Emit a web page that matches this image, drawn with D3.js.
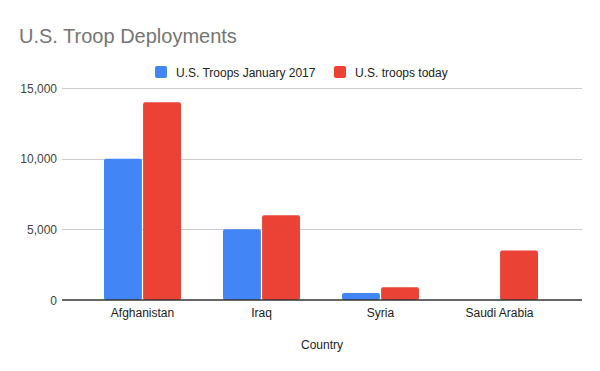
<!DOCTYPE html>
<meta charset="utf-8">
<style>
  body { margin: 0; background: #fff; }
  text { font-family: Arial, "Liberation Sans", sans-serif; }
</style>
<script src="https://d3js.org/d3.v7.min.js"></script>
<svg id="chart" width="600" height="371"></svg>
<script>

// data
var countries = ["Afghanistan", "Iraq", "Syria", "Saudi Arabia"];
var seriesNames = ["U.S. Troops January 2017", "U.S. troops today"];
var troops2017 = [10000, 5000, 500, 0];
var troopsToday = [14000, 6000, 900, 3500];
var yTicks = [0, 5000, 10000, 15000];
var colors = ["#4285f4", "#ea4335"];

var svg = d3.select("#chart");

var rows = countries.map(function(c, i) {
  return { country: c, values: [troops2017[i], troopsToday[i]] };
});

// scales
var gridLeft = 62, gridRight = 582;
var y = d3.scaleLinear().domain([0, 15000]).range([300, 88]);
var x0 = d3.scaleBand().domain(countries).range([83, 559]).paddingInner(0.353).paddingOuter(0.1765);
var x1 = d3.scaleBand().domain([0, 1]).range([0, x0.bandwidth()]).paddingInner(0.03);

// title
svg.append("text")
  .attr("x", 19).attr("y", 43)
  .attr("fill", "#757575")
  .style("font-size", "20px")
  .text("U.S. Troop Deployments");

// legend
var legendX = [155, 334];
var legend = svg.selectAll("g.legend")
  .data(seriesNames)
  .enter().append("g")
  .attr("class", "legend")
  .attr("transform", function(d, i) { return "translate(" + legendX[i] + ",66)"; });

legend.append("rect")
  .attr("width", 12).attr("height", 12).attr("rx", 2)
  .attr("fill", function(d, i) { return colors[i]; });

legend.append("text")
  .attr("x", 21).attr("y", 10.5)
  .attr("fill", "#222")
  .style("font-size", "12px")
  .text(function(d) { return d; });

// gridlines + y labels
svg.append("g").selectAll("line")
  .data(yTicks.filter(function(d) { return d > 0; }))
  .enter().append("line")
  .attr("x1", gridLeft).attr("x2", gridRight)
  .attr("y1", function(d) { return Math.round(y(d)) + 0.5; })
  .attr("y2", function(d) { return Math.round(y(d)) + 0.5; })
  .attr("stroke", "#cccccc");

svg.append("g").selectAll("text")
  .data(yTicks)
  .enter().append("text")
  .attr("x", 57)
  .attr("y", function(d) { return y(d) + 4.5; })
  .attr("text-anchor", "end")
  .attr("fill", "#444")
  .style("font-size", "12px")
  .text(function(d) { return d3.format(",")(d); });

// bars
var groups = svg.append("g").selectAll("g")
  .data(rows)
  .enter().append("g")
  .attr("transform", function(d) { return "translate(" + x0(d.country) + ",0)"; });

groups.selectAll("rect")
  .data(function(d) { return d.values; })
  .enter().append("rect")
  .attr("x", function(d, i) { return x1(i); })
  .attr("width", x1.bandwidth())
  .attr("y", function(d) { return y(d); })
  .attr("height", function(d) { return y(0) - y(d); })
  .attr("rx", function(d) { return d > 0 ? 2 : 0; })
  .attr("fill", function(d, i) { return colors[i]; });

// baseline
svg.append("line")
  .attr("x1", gridLeft).attr("x2", gridRight)
  .attr("y1", 300).attr("y2", 300)
  .attr("stroke", "#333").attr("stroke-width", 1.3);

// x labels
svg.append("g").selectAll("text")
  .data(countries)
  .enter().append("text")
  .attr("x", function(d) { return x0(d) + x0.bandwidth() / 2; })
  .attr("y", 317)
  .attr("text-anchor", "middle")
  .attr("fill", "#222")
  .style("font-size", "12px")
  .text(function(d) { return d; });

// x axis title
svg.append("text")
  .attr("x", (gridLeft + gridRight) / 2)
  .attr("y", 349)
  .attr("text-anchor", "middle")
  .attr("fill", "#222")
  .style("font-size", "12px")
  .text("Country");

</script>
